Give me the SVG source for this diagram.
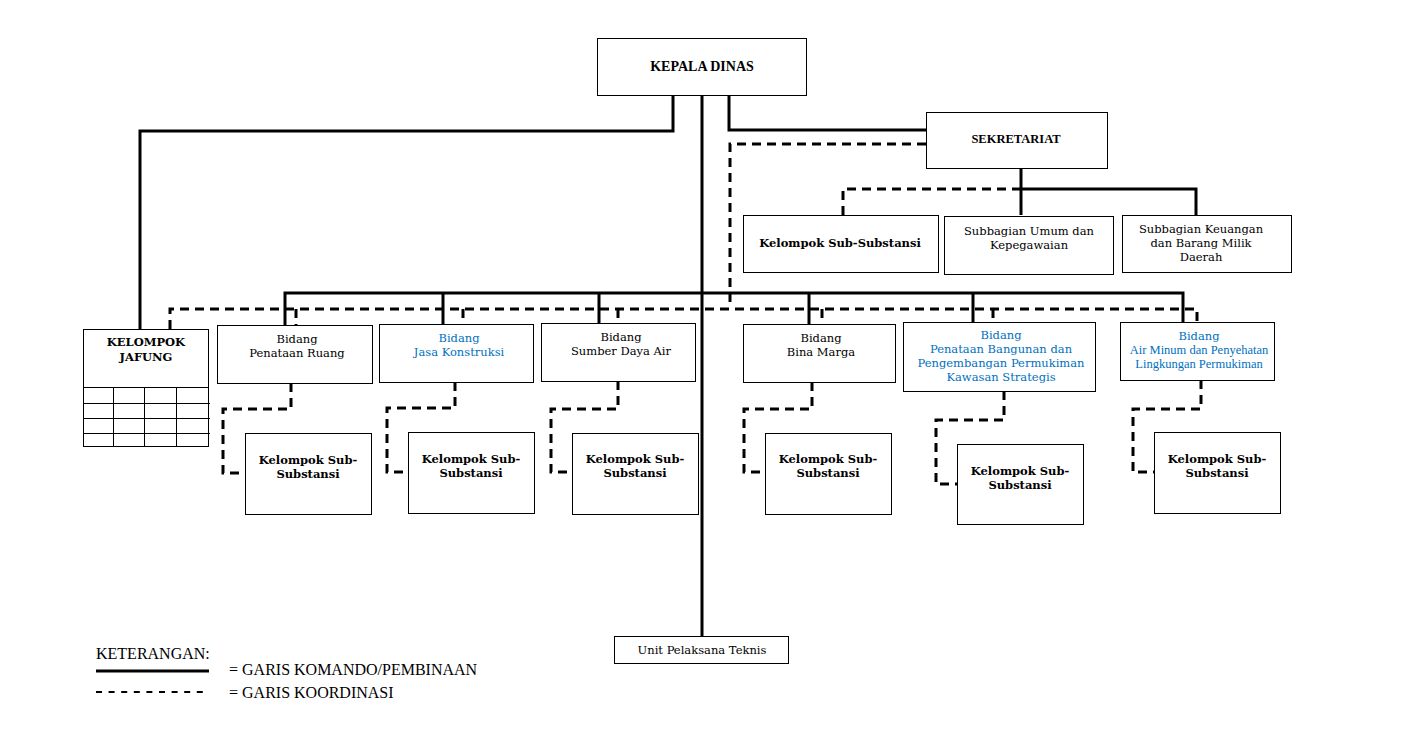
<svg xmlns="http://www.w3.org/2000/svg" width="1402" height="737" viewBox="0 0 1402 737">
<style>
.box{fill:#fff;stroke:#000;stroke-width:1}
.solid{fill:none;stroke:#000;stroke-width:3}
.dash{fill:none;stroke:#000;stroke-width:3;stroke-dasharray:9 6}
.t{font-family:"DejaVu Serif","Liberation Serif",serif;font-size:11.5px;fill:#000;text-anchor:middle}
.tm{font-family:"Liberation Serif",serif;fill:#000;text-anchor:middle}
.b{font-weight:bold}
.blue{fill:#0070C0}
.grid{stroke:#000;stroke-width:1}
.lg{font-family:"Liberation Serif",serif;font-size:16px;fill:#000}
</style>
<rect width="1402" height="737" fill="#fff"/>
<g id="connectors">
<path class="solid" d="M673,95 V131 H140 V329"/>
<path class="solid" d="M702,95 V636"/>
<path class="solid" d="M729,95 V130 H926"/>
<path class="dash" d="M926,144 H730 V308"/>
<path class="solid" d="M1021,168 V215"/>
<path class="solid" d="M1021,189 H1196 V215"/>
<path class="dash" d="M1021,189 H843 V215"/>
<path class="solid" d="M285,325 V293 H1183 V322"/>
<path class="solid" d="M443,293 V324 M599,293 V323 M809,293 V324 M973,293 V322"/>
<path class="dash" d="M170,329 V309 H1197 V322"/>
<path class="dash" d="M296,309 V325 M463,309 V324 M618,309 V323 M822,309 V324 M993,309 V322"/>
<path class="dash" d="M291,383 V409 H223 V473 H245"/>
<path class="dash" d="M455,382 V408 H387 V472 H408"/>
<path class="dash" d="M618,381 V409 H551 V472 H572"/>
<path class="dash" d="M812,382 V409 H744 V472 H765"/>
<path class="dash" d="M1004,391 V420 H936 V484 H957"/>
<path class="dash" d="M1201,380 V409 H1133 V472 H1154"/>
</g>
<g id="kepala-dinas">
<rect class="box" x="597.5" y="38.5" width="209" height="57"/>
<text class="tm b" x="702" y="71" font-size="14">KEPALA DINAS</text>
</g>
<g id="sekretariat">
<rect class="box" x="926.5" y="112.5" width="181" height="56"/>
<text class="tm b" x="1016" y="143" font-size="12.5">SEKRETARIAT</text>
</g>
<g id="sek-kelompok">
<rect class="box" x="743.5" y="215.5" width="195" height="57"/>
<text class="t b" x="840" y="247">Kelompok Sub-Substansi</text>
</g>
<g id="subbag-umum">
<rect class="box" x="944.5" y="216.5" width="169" height="58"/>
<text class="t" x="1029" y="235">Subbagian Umum dan</text>
<text class="t" x="1029" y="249">Kepegawaian</text>
</g>
<g id="subbag-keuangan">
<rect class="box" x="1122.5" y="215.5" width="169" height="57"/>
<text class="t" x="1201" y="233">Subbagian Keuangan</text>
<text class="t" x="1201" y="247">dan Barang Milik</text>
<text class="t" x="1201" y="261">Daerah</text>
</g>
<g id="kelompok-jafung">
<rect class="box" x="83.5" y="329.5" width="125" height="117"/>
<text class="t b" x="146" y="346" font-size="11.5">KELOMPOK</text>
<text class="t b" x="146" y="361" font-size="11.5">JAFUNG</text>
<path class="grid" d="M83,387.5 H209 M83,403.5 H210 M83,418.5 H210 M83,433.5 H210 M113.5,387 V446 M144.5,387 V446 M176.5,387 V446"/>
</g>
<g id="bidang-penataan-ruang">
<rect class="box" x="217.5" y="325.5" width="155" height="58"/>
<text class="t" x="297" y="343">Bidang</text>
<text class="t" x="297" y="357">Penataan Ruang</text>
</g>
<g id="bidang-jasa-konstruksi">
<rect class="box" x="379.5" y="324.5" width="154" height="58"/>
<text class="t blue" x="459" y="342">Bidang</text>
<text class="t blue" x="459" y="356">Jasa Konstruksi</text>
</g>
<g id="bidang-sda">
<rect class="box" x="541.5" y="323.5" width="154" height="58"/>
<text class="t" x="621" y="341">Bidang</text>
<text class="t" x="621" y="355">Sumber Daya Air</text>
</g>
<g id="bidang-bina-marga">
<rect class="box" x="743.5" y="324.5" width="152" height="58"/>
<text class="t" x="821" y="342">Bidang</text>
<text class="t" x="821" y="356">Bina Marga</text>
</g>
<g id="bidang-penataan-bangunan">
<rect class="box" x="903.5" y="322.5" width="192" height="69"/>
<text class="t blue" x="1001" y="339">Bidang</text>
<text class="t blue" x="1001" y="353">Penataan Bangunan dan</text>
<text class="t blue" x="1001" y="367">Pengembangan Permukiman</text>
<text class="t blue" x="1001" y="381">Kawasan Strategis</text>
</g>
<g id="bidang-air-minum">
<rect class="box" x="1120.5" y="322.5" width="154" height="58"/>
<text class="t blue" x="1199" y="340">Bidang</text>
<text class="tm blue" x="1199" y="354" font-size="12.5">Air Minum dan Penyehatan</text>
<text class="tm blue" x="1199" y="368" font-size="12.5">Lingkungan Permukiman</text>
</g>
<g id="sub-1">
<rect class="box" x="245.5" y="433.5" width="126" height="81"/>
<text class="t b" x="308" y="464">Kelompok Sub-</text>
<text class="t b" x="308" y="478">Substansi</text>
</g>
<g id="sub-2">
<rect class="box" x="408.5" y="432.5" width="126" height="81"/>
<text class="t b" x="471" y="463">Kelompok Sub-</text>
<text class="t b" x="471" y="477">Substansi</text>
</g>
<g id="sub-3">
<rect class="box" x="572.5" y="433.5" width="126" height="81"/>
<text class="t b" x="635" y="463">Kelompok Sub-</text>
<text class="t b" x="635" y="477">Substansi</text>
</g>
<g id="sub-4">
<rect class="box" x="765.5" y="433.5" width="126" height="81"/>
<text class="t b" x="828" y="463">Kelompok Sub-</text>
<text class="t b" x="828" y="477">Substansi</text>
</g>
<g id="sub-5">
<rect class="box" x="957.5" y="444.5" width="126" height="80"/>
<text class="t b" x="1020" y="475">Kelompok Sub-</text>
<text class="t b" x="1020" y="489">Substansi</text>
</g>
<g id="sub-6">
<rect class="box" x="1154.5" y="432.5" width="126" height="81"/>
<text class="t b" x="1217" y="463">Kelompok Sub-</text>
<text class="t b" x="1217" y="477">Substansi</text>
</g>
<g id="upt">
<rect class="box" x="614.5" y="636.5" width="174" height="27"/>
<text class="t" x="702" y="654" font-size="11">Unit Pelaksana Teknis</text>
</g>
<g id="legend">
<text class="lg" x="96" y="659">KETERANGAN:</text>
<path d="M96,671 H209" stroke="#000" stroke-width="3"/>
<text class="lg" x="229" y="675">= GARIS KOMANDO/PEMBINAAN</text>
<path d="M96,692 H209" stroke="#000" stroke-width="2" stroke-dasharray="6 6.6"/>
<text class="lg" x="229" y="698">= GARIS KOORDINASI</text>
</g>
</svg>
